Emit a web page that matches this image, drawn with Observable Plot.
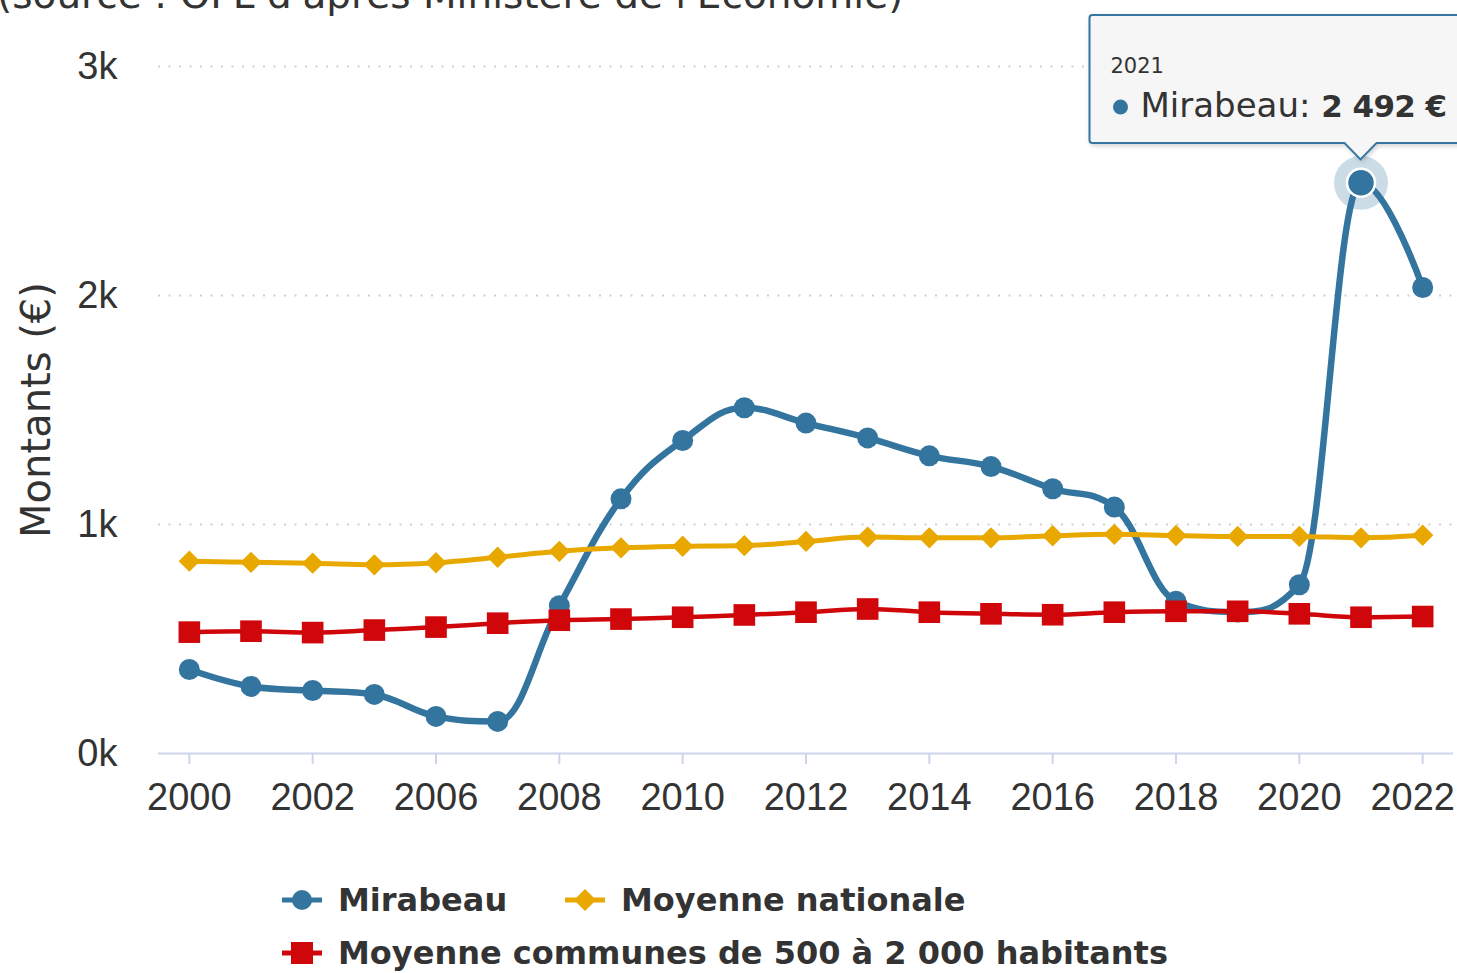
<!DOCTYPE html>
<html>
<head>
<meta charset="utf-8">
<script src="https://cdn.jsdelivr.net/npm/d3@7"></script>
<script src="https://cdn.jsdelivr.net/npm/@observablehq/plot@0.6"></script>
<style>
  html, body { margin: 0; padding: 0; background: #fff; }
  body { width: 1457px; height: 973px; overflow: hidden; position: relative; font-family: "DejaVu Sans", sans-serif; color: #333; }
  #source { position: absolute; left: -3px; top: -25px; font-size: 39px; line-height: 39px; white-space: nowrap; color: #333; }
  #chart { position: absolute; left: 0; top: 0; }
  .leg { position: absolute; display: flex; align-items: center; font-weight: bold; font-size: 32px; color: #333; white-space: nowrap; }
  .leg svg { margin-right: 16px; }
</style>
</head>
<body>
<div id="source">(source : OFL d'après Ministère de l'Économie)</div>
<div id="chart"></div>
<div class="leg" id="leg0" style="left:282px; top:877px; height:46px;"></div>
<div class="leg" id="leg1" style="left:565px; top:877px; height:46px;"></div>
<div class="leg" id="leg2" style="left:282px; top:930px; height:46px;"></div>
<script>
// ---- data ----
const years = ["2000","2001","2002","2003","2006","2007","2008","2009","2010","2011","2012","2013","2014","2015","2016","2017","2018","2019","2020","2021","2022"];
const mirabeau = [367, 293, 275, 258, 162, 140, 645, 1112, 1367, 1510, 1443, 1378, 1300, 1253, 1156, 1076, 665, 618, 737, 2492, 2035];
const moyNationale = [840, 835, 831, 824, 833, 857, 883, 898, 905, 908, 926, 945, 942, 942, 951, 957, 952, 948, 948, 942, 953];
const moyStrate = [530, 534, 528, 539, 552, 569, 582, 587, 595, 605, 617, 631, 617, 610, 606, 617, 621, 621, 610, 595, 598];
const xTickLabels = ["2000","2002","2006","2008","2010","2012","2014","2016","2018","2020","2022"];
const yTicks = [0, 1000, 2000, 3000];
const seriesNames = ["Mirabeau", "Moyenne nationale", "Moyenne communes de 500 à 2 000 habitants"];
const seriesColors = ["#34759f", "#e8a800", "#cf060a"];
const highlightYear = "2021";
const yTitle = "Montants (€)";

const rows = years.map((y, i) => ({year: y, mirabeau: mirabeau[i], nat: moyNationale[i], strate: moyStrate[i]}));
const hl = rows.filter(d => d.year === highlightYear);

// Highcharts-like spline curve (smoothing 1.5)
function HCSpline(context) { this._context = context; }
HCSpline.prototype = {
  areaStart() { this._line = 0; },
  areaEnd() { this._line = NaN; },
  lineStart() { this._x = []; this._y = []; },
  point(x, y) { this._x.push(+x); this._y.push(+y); },
  lineEnd() {
    const X = this._x, Y = this._y, n = X.length, c = this._context;
    if (!n) return;
    const L = X.map((x, i) => [x, Y[i]]), R = X.map((x, i) => [x, Y[i]]);
    const sm = 1.5, den = sm + 1;
    for (let i = 1; i < n - 1; i++) {
      const x = X[i], y = Y[i], lx = X[i-1], ly = Y[i-1], nx = X[i+1], ny = Y[i+1];
      let lcx = (sm * x + lx) / den, lcy = (sm * y + ly) / den;
      let rcx = (sm * x + nx) / den, rcy = (sm * y + ny) / den;
      if (rcx !== lcx) {
        const corr = ((rcy - lcy) * (rcx - x)) / (rcx - lcx) + y - rcy;
        lcy += corr; rcy += corr;
      }
      if (lcy > ly && lcy > y) { lcy = Math.max(ly, y); rcy = 2 * y - lcy; }
      else if (lcy < ly && lcy < y) { lcy = Math.min(ly, y); rcy = 2 * y - lcy; }
      if (rcy > ny && rcy > y) { rcy = Math.max(ny, y); lcy = 2 * y - rcy; }
      else if (rcy < ny && rcy < y) { rcy = Math.min(ny, y); lcy = 2 * y - rcy; }
      L[i] = [lcx, lcy]; R[i] = [rcx, rcy];
    }
    c.moveTo(X[0], Y[0]);
    for (let i = 1; i < n; i++) c.bezierCurveTo(R[i-1][0], R[i-1][1], L[i][0], L[i][1], X[i], Y[i]);
  }
};
const hcSpline = (context) => new HCSpline(context);

const tickFont = "Liberation Sans, Arial, sans-serif";
const lastTick = xTickLabels[xTickLabels.length - 1];
const axisOpts = {tickSize: 11, tickPadding: 19, fontSize: 38, stroke: "#ccd6eb", strokeWidth: 2, fill: "#333", fontFamily: tickFont, label: null};
const chart = Plot.plot({
  width: 1457,
  height: 833,
  marginLeft: 158,
  marginRight: 4,
  marginTop: 66,
  marginBottom: 80,
  style: {background: "transparent", overflow: "visible", maxWidth: "none"},
  x: {type: "point", domain: years, padding: 0.5, round: false},
  y: {domain: [0, 3000]},
  marks: [
    Plot.ruleY([1000, 2000, 3000], {stroke: "#cfcfcf", strokeWidth: 2, strokeDasharray: "2,8.5"}),
    Plot.ruleY([0], {stroke: "#ccd6eb", strokeWidth: 2}),
    // all tick marks; last label is drawn separately, nudged left to stay inside the chart (as Highcharts does)
    Plot.axisX({...axisOpts, ticks: xTickLabels, tickFormat: d => (d === lastTick ? "" : d)}),
    Plot.axisX({...axisOpts, ticks: [lastTick], tickSize: 0, tickPadding: 30, dx: -10}),
    Plot.axisY({ticks: yTicks, tickFormat: d => `${d / 1000}k`, tickSize: 0, tickPadding: 41, fontSize: 38, fill: "#333", fontFamily: tickFont, label: null}),
    Plot.text([yTitle], {frameAnchor: "left", textAnchor: "middle", dx: -121, rotate: -90, fontSize: 40, fill: "#333", fontFamily: "DejaVu Sans"}),
    // Mirabeau
    Plot.line(rows, {x: "year", y: "mirabeau", curve: hcSpline, stroke: seriesColors[0], strokeWidth: 6.5}),
    Plot.dot(rows, {x: "year", y: "mirabeau", r: 10.5, fill: seriesColors[0]}),
    Plot.dot(hl, {x: "year", y: "mirabeau", r: 27, fill: seriesColors[0], fillOpacity: 0.25}),
    Plot.dot(hl, {x: "year", y: "mirabeau", r: 14, fill: seriesColors[0], stroke: "#fff", strokeWidth: 2.5}),
    // Moyenne nationale
    Plot.line(rows, {x: "year", y: "nat", curve: hcSpline, stroke: seriesColors[1], strokeWidth: 5}),
    Plot.dot(rows, {x: "year", y: "nat", symbol: "diamond2", r: 9.6, fill: seriesColors[1], stroke: "none"}),
    // Moyenne strate
    Plot.line(rows, {x: "year", y: "strate", curve: hcSpline, stroke: seriesColors[2], strokeWidth: 4.5}),
    Plot.dot(rows, {x: "year", y: "strate", symbol: "square", r: 12.2, fill: seriesColors[2], stroke: "none"})
  ]
});
document.getElementById("chart").appendChild(chart);

const sx = chart.scale("x"), sy = chart.scale("y");
const svg = d3.select(chart.tagName.toLowerCase() === "svg" ? chart : chart.querySelector("svg"));

// ---- tooltip (positioned from Plot's scales) ----
const px = sx.apply(highlightYear), py = sy.apply(mirabeau[years.indexOf(highlightYear)]);
const bx = px - 271, by = 15, bw = 420, bh = 128, half = 16, tipY = py - 23;
const defs = svg.append("defs");
const f = defs.append("filter").attr("id", "tshadow").attr("x", "-10%").attr("y", "-10%").attr("width", "130%").attr("height", "140%");
f.append("feDropShadow").attr("dx", 1.5).attr("dy", 2).attr("stdDeviation", 2).attr("flood-color", "#000").attr("flood-opacity", 0.18);
const tg = svg.append("g").attr("text-anchor", "start");
tg.append("path")
  .attr("d", `M${bx + 3},${by} H${bx + bw} V${by + bh} H${px + half} L${px},${tipY} L${px - half},${by + bh} H${bx + 3} Q${bx},${by + bh} ${bx},${by + bh - 3} V${by + 3} Q${bx},${by} ${bx + 3},${by} Z`)
  .attr("fill", "rgba(247,247,247,0.92)").attr("stroke", seriesColors[0]).attr("stroke-width", 2).attr("filter", "url(#tshadow)");
tg.append("text").attr("x", bx + 21).attr("y", 73).attr("font-size", 21).attr("font-family", "DejaVu Sans").attr("fill", "#333").text(highlightYear);
tg.append("circle").attr("cx", bx + 31).attr("cy", 107).attr("r", 7.5).attr("fill", seriesColors[0]);
const t2 = tg.append("text").attr("x", bx + 51).attr("y", 117).attr("font-size", 34).attr("font-family", "DejaVu Sans").attr("fill", "#333");
t2.append("tspan").text(seriesNames[0] + ": ");
t2.append("tspan").attr("font-weight", "bold").attr("font-size", 31).attr("letter-spacing", -0.6)
  .text(d3.format(",")(mirabeau[years.indexOf(highlightYear)]).replace(/,/g, " ") + " €");

// ---- legend ----
function swatch(color, kind) {
  const s = d3.create("svg").attr("width", 40).attr("height", 30);
  s.append("line").attr("x1", 0).attr("x2", 40).attr("y1", 15).attr("y2", 15).attr("stroke", color).attr("stroke-width", 5);
  if (kind === "circle") s.append("circle").attr("cx", 20).attr("cy", 15).attr("r", 10).attr("fill", color);
  if (kind === "diamond") s.append("path").attr("d", "M20,4 L31,15 L20,26 L9,15 Z").attr("fill", color);
  if (kind === "square") s.append("rect").attr("x", 9).attr("y", 4).attr("width", 22).attr("height", 22).attr("fill", color);
  return s.node();
}
const kinds = ["circle", "diamond", "square"];
seriesNames.forEach((name, i) => {
  const el = document.getElementById("leg" + i);
  el.appendChild(swatch(seriesColors[i], kinds[i]));
  const sp = document.createElement("span");
  sp.textContent = name;
  el.appendChild(sp);
});
</script>
</body>
</html>
